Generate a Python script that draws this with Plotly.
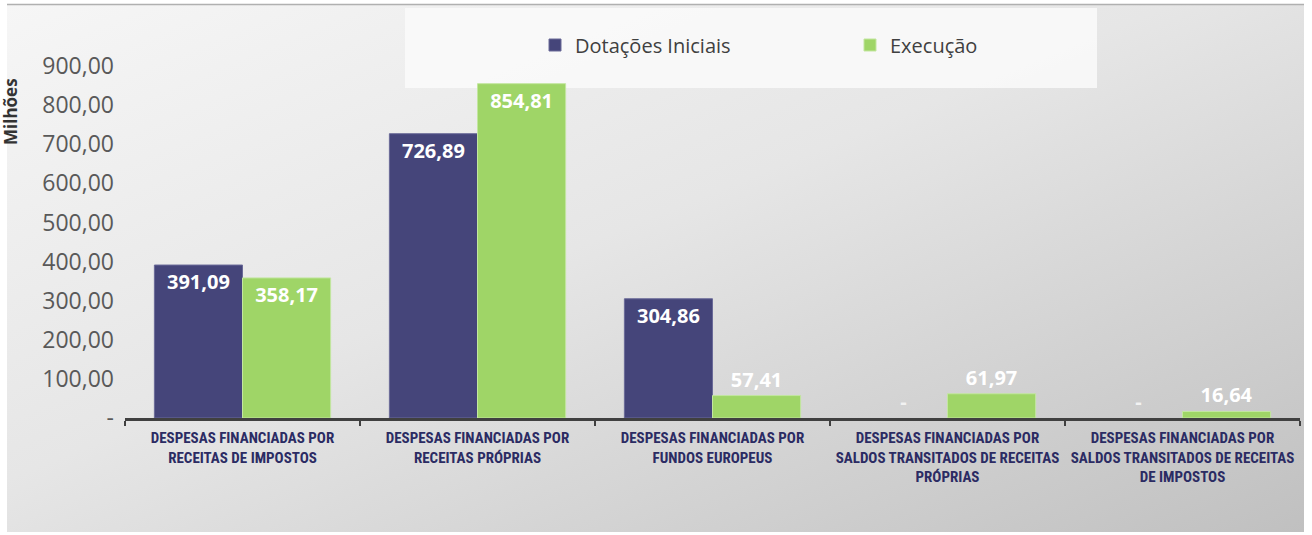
import base64
import plotly.graph_objects as go

categories = [
    "DESPESAS FINANCIADAS POR<br>RECEITAS DE IMPOSTOS",
    "DESPESAS FINANCIADAS POR<br>RECEITAS PRÓPRIAS",
    "DESPESAS FINANCIADAS POR<br>FUNDOS EUROPEUS",
    "DESPESAS FINANCIADAS POR<br>SALDOS TRANSITADOS DE RECEITAS<br>PRÓPRIAS",
    "DESPESAS FINANCIADAS POR<br>SALDOS TRANSITADOS DE RECEITAS<br>DE IMPOSTOS",
]
dotacoes = [391.09, 726.89, 304.86, 0, 0]
execucao = [358.17, 854.81, 57.41, 61.97, 16.64]
tick_vals = [0, 100, 200, 300, 400, 500, 600, 700, 800, 900]
tick_text = ["-", "100,00", "200,00", "300,00", "400,00", "500,00", "600,00", "700,00", "800,00", "900,00"]


def fmt(v):
    if v == 0:
        return "-"
    return f"{v:.2f}".replace(".", ",")


def pos(v):
    return "inside" if v > 100 else "outside"


W, H = 1312, 535
L, R, T, B = 125, 12, 66, 117
PW, PH = W - L - R, H - T - B

svg = f'''<svg xmlns="http://www.w3.org/2000/svg" width="{W}" height="{H}" viewBox="0 0 {W} {H}" preserveAspectRatio="none">
<defs><linearGradient id="g" x1="0" y1="0" x2="1" y2="1">
<stop offset="0" stop-color="#f6f6f6"/>
<stop offset="0.45" stop-color="#e6e6e6"/>
<stop offset="1" stop-color="#c0c0c0"/>
</linearGradient></defs>
<rect x="0" y="0" width="{W}" height="{H}" fill="#ffffff"/>
<rect x="7" y="4" width="1297" height="528" fill="url(#g)"/>
<line x1="7" y1="4.5" x2="1304" y2="4.5" stroke="#b0b0b0" stroke-width="1.5"/>
<rect x="405" y="8" width="692" height="80" fill="#fafafa" fill-opacity="0.85"/>
</svg>'''
src = "data:image/svg+xml;base64," + base64.b64encode(svg.encode()).decode()

label_font = dict(family="Open Sans", size=20, color="white", weight="bold")

fig = go.Figure()
fig.add_trace(go.Bar(
    name="Dotações Iniciais", x=categories, y=dotacoes,
    marker=dict(color="#45457a", line=dict(color="#6a6a98", width=[1 if v > 0 else 0 for v in dotacoes])),
    text=[fmt(v) for v in dotacoes], textposition=[pos(v) for v in dotacoes],
    insidetextanchor="end",
    textfont=label_font,
    outsidetextfont=dict(family="Open Sans", size=20, color="#f2f2f2", weight="bold"),
    cliponaxis=False,
))
fig.add_trace(go.Bar(
    name="Execução", x=categories, y=execucao,
    marker=dict(color="#9fd567", line=dict(color="#c3e6a0", width=1)),
    text=[fmt(v) for v in execucao], textposition=[pos(v) for v in execucao],
    insidetextanchor="end",
    textfont=label_font,
    outsidetextfont=label_font,
    cliponaxis=False,
))

fig.update_layout(
    width=W, height=H,
    margin=dict(l=L, r=R, t=T, b=B),
    paper_bgcolor="rgba(0,0,0,0)",
    plot_bgcolor="rgba(0,0,0,0)",
    barmode="group", bargap=0.25, bargroupgap=0,
    images=[dict(source=src, xref="paper", yref="paper", x=-L/PW, y=1 + T/PH,
                 sizex=W/PW, sizey=H/PH, xanchor="left", yanchor="top",
                 sizing="stretch", layer="below")],
    legend=dict(orientation="h", x=(535 - L)/PW, xanchor="left", y=1 + (T - 45)/PH, yanchor="middle",
                font=dict(family="Open Sans", size=20, color="#404040"),
                entrywidth=270, bgcolor="rgba(0,0,0,0)"),
    showlegend=True,
    annotations=[dict(text="<b>Milhões</b>", xref="paper", yref="paper",
                      x=(11 - L)/PW, y=1 + (T - 112)/PH, textangle=-90,
                      showarrow=False, xanchor="center", yanchor="middle",
                      font=dict(family="Open Sans", size=17, color="#333333"))],
)
fig.update_yaxes(range=[0, 900], tickvals=tick_vals, ticktext=tick_text,
                 showgrid=False, zeroline=False, showline=False,
                 tickfont=dict(family="Open Sans", size=23, color="#595959"),
                 ticks="", ticklabelstandoff=10)
fig.update_xaxes(showline=True, linecolor="#404040", linewidth=3,
                 ticks="outside", tickson="boundaries", ticklen=5, tickwidth=2, tickcolor="#404040",
                 tickangle=0, ticklabelstandoff=4,
                 tickfont=dict(family="Liberation Sans Narrow, Roboto Condensed, Arial Narrow, sans-serif",
                               size=15, color="#2b2b63", weight="bold"))

fig.write_html("out.html", config={"displayModeBar": False},
               post_script="document.body.style.margin='0';")
